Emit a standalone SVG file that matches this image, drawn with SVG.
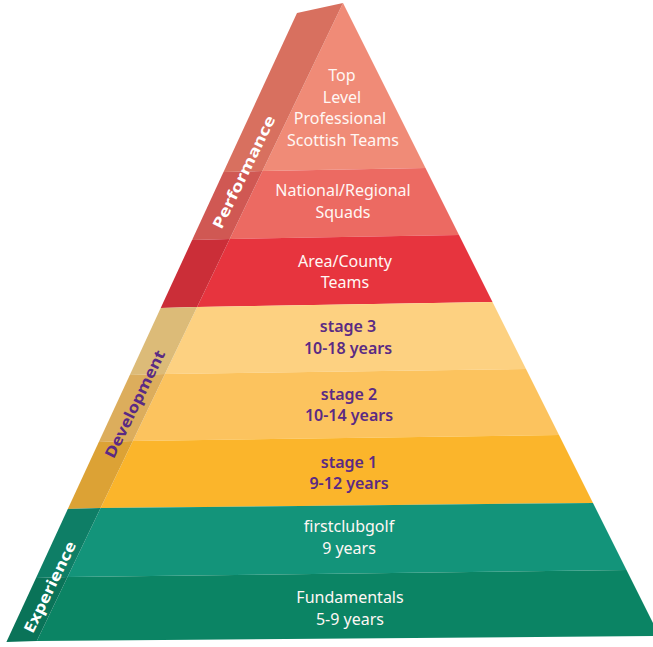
<svg xmlns="http://www.w3.org/2000/svg" width="653" height="647" viewBox="0 0 653 647">
<style>
.w{font-family:"Noto Sans","Liberation Sans",sans-serif;font-size:16px;fill:#fff7f4;text-anchor:middle}
.p{font-family:"Noto Sans","Liberation Sans",sans-serif;font-size:16px;font-weight:600;fill:#5a2a84;text-anchor:middle}
.sw{font-family:"Noto Sans","Liberation Sans",sans-serif;font-size:15px;font-weight:bold;fill:#ffffff;text-anchor:middle}
.sp{font-family:"Noto Sans","Liberation Sans",sans-serif;font-size:15px;font-weight:bold;fill:#5a2a84;text-anchor:middle}
</style>
<rect width="653" height="647" fill="#ffffff"/>
<g id="top-level">
<polygon points="343,3 425.5,168 262.4,171" fill="#f08b77"/>
<polygon points="297,13 343,3 262.4,171 223.5,172" fill="#d8705f"/>
<text class="w" x="342" y="81">Top</text>
<text class="w" x="342" y="103">Level</text>
<text class="w" x="340" y="124">Professional</text>
<text class="w" x="343" y="146">Scottish Teams</text>
</g>
<g id="national">
<polygon points="262.4,171 425.5,168 459,235 229.7,239" fill="#ec6a62"/>
<polygon points="223.5,172 262.4,171 229.7,239 192.1,240" fill="#d05853"/>
<text class="w" x="343" y="196">National/Regional</text>
<text class="w" x="343" y="218">Squads</text>
</g>
<g id="area">
<polygon points="229.7,239 459,235 492.5,302 197.1,307" fill="#e7343e"/>
<polygon points="192.1,240 229.7,239 197.1,307 160.7,308" fill="#cb2e38"/>
<text class="w" x="345" y="267">Area/County</text>
<text class="w" x="345" y="288">Teams</text>
</g>
<g id="stage3">
<polygon points="197.1,307 492.5,302 526,369 164.9,374" fill="#fdd181"/>
<polygon points="160.7,308 197.1,307 164.9,374 129.8,375" fill="#dcbb78"/>
<text class="p" x="348" y="332">stage 3</text>
<text class="p" x="348" y="354">10-18 years</text>
</g>
<g id="stage2">
<polygon points="164.9,374 526,369 559,435 132.8,441" fill="#fcc35e"/>
<polygon points="129.8,375 164.9,374 132.8,441 98.8,442" fill="#dcad5c"/>
<text class="p" x="349" y="400">stage 2</text>
<text class="p" x="349" y="421">10-14 years</text>
</g>
<g id="stage1">
<polygon points="132.8,441 559,435 593,503 100.6,508" fill="#fbb52b"/>
<polygon points="98.8,442 132.8,441 100.6,508 67.8,509" fill="#dca235"/>
<text class="p" x="349" y="468">stage 1</text>
<text class="p" x="349" y="489">9-12 years</text>
</g>
<g id="firstclubgolf">
<polygon points="100.6,508 593,503 626.5,570 67.5,577" fill="#13947a"/>
<polygon points="67.8,509 100.6,508 67.5,577 36,578" fill="#0e7e66"/>
<text class="w" x="349" y="532">firstclubgolf</text>
<text class="w" x="349" y="554">9 years</text>
</g>
<g id="fundamentals">
<polygon points="67.5,577 626.5,570 659.5,636 36.8,641" fill="#0b8464"/>
<polygon points="36,578 67.5,577 36.8,641 6.4,642" fill="#0a7358"/>
<text class="w" x="350" y="603">Fundamentals</text>
<text class="w" x="350" y="625">5-9 years</text>
</g>
<g id="section-labels">
<text class="sw" transform="translate(244,172) rotate(-64)" dy="0.35em" textLength="124" lengthAdjust="spacingAndGlyphs">Performance</text>
<text class="sp" transform="translate(135,404) rotate(-64)" dy="0.35em" textLength="118" lengthAdjust="spacingAndGlyphs">Development</text>
<text class="sw" transform="translate(50,587) rotate(-64)" dy="0.35em" textLength="100" lengthAdjust="spacingAndGlyphs">Experience</text>
</g>
<g id="connectors"></g>
</svg>
